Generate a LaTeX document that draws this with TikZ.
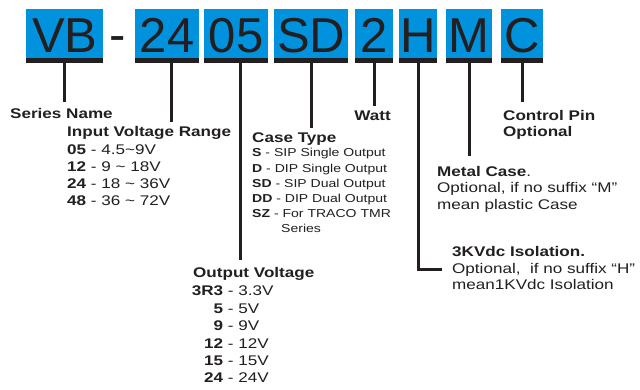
\documentclass[tikz,border=0pt]{standalone}
\usepackage{fontspec}
\setmainfont{Liberation Sans}
\newfontfamily\lblfont{Liberation Sans}[FakeStretch=1.22]
\definecolor{boxblue}{RGB}{0,146,221}
\definecolor{ink}{RGB}{35,31,32}
\begin{document}
\begin{tikzpicture}[x=1pt,y=-1pt,
  codebox/.style={fill=boxblue, inner sep=0pt, anchor=north west, minimum height=54pt,
    text height=35pt, text depth=3pt, font=\fontsize{49}{49}\selectfont, text=ink,
    path picture={\fill[ink] (path picture bounding box.south west) rectangle ([yshift=5pt]path picture bounding box.south east);}},
  head/.style={anchor=base west, inner sep=0pt, text=ink, font=\lblfont\bfseries\fontsize{14}{17}\selectfont},
  item/.style={anchor=base west, inner sep=0pt, text=ink, font=\lblfont\fontsize{14}{17}\selectfont},
  smallitem/.style={anchor=base west, inner sep=0pt, text=ink, font=\lblfont\fontsize{11.5}{14}\selectfont},
  conn/.style={draw=ink, line width=2.6pt}]
\useasboundingbox (0,0) rectangle (640,390);
\fill[white] (0,0) rectangle (640,390);

% code boxes
\node[codebox, minimum width=77pt] (vb)  at (26,9)  {VB};
\node[anchor=base, inner sep=0pt, text=ink, font=\fontsize{49}{49}\selectfont] (dash) at (118,52) {-};
\node[codebox, minimum width=64pt] (b24) at (135,9) {24};
\node[codebox, minimum width=64pt] (b05) at (204,9) {05};
\node[codebox, minimum width=74pt] (bsd) at (274,9) {SD};
\node[codebox, minimum width=38pt] (b2)  at (355,9) {2};
\node[codebox, minimum width=38pt] (bh)  at (399,9) {H};
\node[codebox, minimum width=46pt] (bm)  at (446,9) {M};
\node[codebox, minimum width=42pt] (bc)  at (501,9) {C};

% series / input
\node[head] (series) at (10,119) {Series Name};
\node[head] (inhdr) at (67,137) {Input Voltage Range};
\node[item] (in1) at (67,155) {\textbf{05} - 4.5\textasciitilde9V};
\node[item] (in2) at (67,172) {\textbf{12} - 9 \textasciitilde{} 18V};
\node[item] (in3) at (67,189) {\textbf{24} - 18 \textasciitilde{} 36V};
\node[item] (in4) at (67,206) {\textbf{48} - 36 \textasciitilde{} 72V};

% case type
\node[head] (casehdr) at (252,143) {Case Type};
\node[smallitem] (c1) at (252,157) {\textbf{S} - SIP Single Output};
\node[smallitem] (c2) at (252,173) {\textbf{D} - DIP Single Output};
\node[smallitem] (c3) at (252,188) {\textbf{SD} - SIP Dual Output};
\node[smallitem] (c4) at (252,203) {\textbf{DD} - DIP Dual Output};
\node[smallitem] (c5) at (252,218) {\textbf{SZ} - For TRACO TMR};
\node[smallitem] (c6) at (281,233) {Series};

% watt
\node[head, anchor=base east] (watt) at (391,121) {Watt};

% output voltage
\node[head] (outhdr) at (193,277) {Output Voltage};
\node[item] (o1) at (223,295) {\llap{\textbf{3R3}} - 3.3V};
\node[item] (o2) at (223,313) {\llap{\textbf{5}} - 5V};
\node[item] (o3) at (223,330) {\llap{\textbf{9}} - 9V};
\node[item] (o4) at (223,348) {\llap{\textbf{12}} - 12V};
\node[item] (o5) at (223,365) {\llap{\textbf{15}} - 15V};
\node[item] (o6) at (223,382) {\llap{\textbf{24}} - 24V};

% metal case
\node[item] (m1) at (437,177) {\textbf{Metal Case}.};
\node[item] (m2) at (437,193) {Optional, if no suffix “M”};
\node[item] (m3) at (437,210) {mean plastic Case};

% isolation
\node[head] (i1) at (452,256) {3KVdc Isolation.};
\node[item] (i2) at (452,273) {Optional,\ \ if no suffix “H”};
\node[item] (i3) at (452,289) {mean1KVdc Isolation};

% control pin
\node[head] (ct1) at (503,121) {Control Pin};
\node[head] (ct2) at (503,137) {Optional};

% connectors
\coordinate (s24) at ([xshift=4pt]b24.south);
\coordinate (s05) at ([xshift=4pt]b05.south);
\draw[conn, shorten >=6.5pt] (vb.south) -- (vb.south |- series.north);
\draw[conn, shorten >=4.5pt] (s24) -- (s24 |- inhdr.north);
\draw[conn, shorten >=6.5pt] (s05) -- (s05 |- outhdr.north);
\draw[conn, shorten >=5.5pt] (bsd.south) -- (bsd.south |- casehdr.north);
\draw[conn, shorten >=5.5pt] (b2.south) -- (b2.south |- watt.north);
\draw[conn] (bh.south) |- ([xshift=-10pt]i2.west);
\draw[conn, shorten >=10.5pt] (bm.south) -- (bm.south |- m1.north);
\draw[conn, shorten >=8.5pt] (bc.south) -- (bc.south |- ct1.north);
\end{tikzpicture}
\end{document}
